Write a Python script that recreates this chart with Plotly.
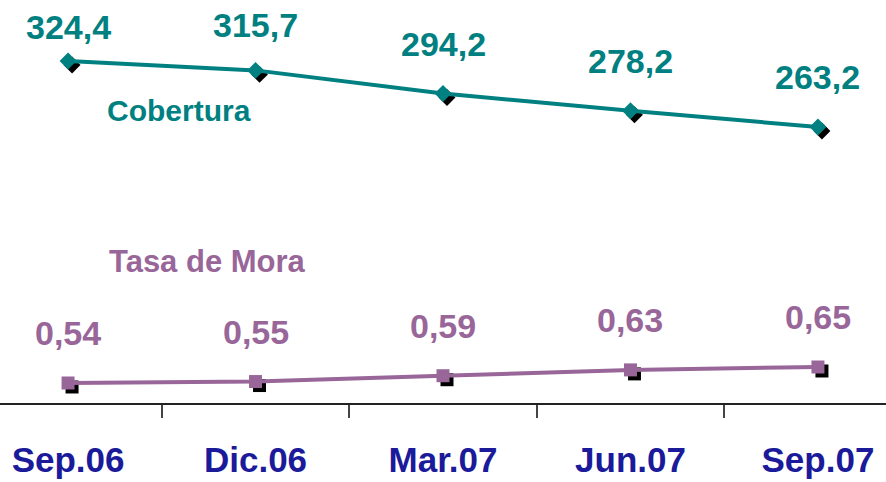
import plotly.graph_objects as go

categories = ["Sep.06", "Dic.06", "Mar.07", "Jun.07", "Sep.07"]
cobertura = [324.4, 315.7, 294.2, 278.2, 263.2]
tasa_mora = [0.54, 0.55, 0.59, 0.63, 0.65]

TEAL = "#008080"
MAUVE = "#996699"
NAVY = "#1a1a9a"
FONT = "Liberation Sans, Arial, sans-serif"

W, H = 886, 482
MB = 79
PLOT_H = H - MB
X_RANGE = [-0.363, 4.363]
Y1_RANGE = [7.1, 381.0]
Y2_RANGE = [0.4025, 3.172]

x_idx = list(range(len(categories)))

# shadow offsets (4 px right / down) converted to data units
px_x = W / (X_RANGE[1] - X_RANGE[0])
px_y1 = PLOT_H / (Y1_RANGE[1] - Y1_RANGE[0])
px_y2 = PLOT_H / (Y2_RANGE[1] - Y2_RANGE[0])
dx = 4 / px_x
dy1 = 4 / px_y1
dy2 = 4 / px_y2

fig = go.Figure()

fig.add_trace(go.Scatter(
    x=[i + dx for i in x_idx], y=[v - dy1 for v in cobertura], mode="markers",
    marker=dict(symbol="diamond", size=13, color="black"),
    hoverinfo="skip", showlegend=False))
fig.add_trace(go.Scatter(
    x=x_idx, y=cobertura, mode="lines+markers", name="Cobertura",
    line=dict(color=TEAL, width=4),
    marker=dict(symbol="diamond", size=13, color=TEAL),
    showlegend=False))

fig.add_trace(go.Scatter(
    x=[i + dx for i in x_idx], y=[v - dy2 for v in tasa_mora], mode="markers",
    marker=dict(symbol="square", size=13, color="black"),
    hoverinfo="skip", showlegend=False, yaxis="y2"))
fig.add_trace(go.Scatter(
    x=x_idx, y=tasa_mora, mode="lines+markers", name="Tasa de Mora",
    line=dict(color=MAUVE, width=4),
    marker=dict(symbol="square", size=13, color=MAUVE),
    showlegend=False, yaxis="y2"))

def fmt(v, d):
    return f"{v:.{d}f}".replace(".", ",")

cob_shift = [34, 45, 50, 50, 50]
for i, v in enumerate(cobertura):
    fig.add_annotation(x=i, y=v, xref="x", yref="y", text=f"<b>{fmt(v, 1)}</b>",
                       showarrow=False, yshift=cob_shift[i],
                       font=dict(family=FONT, size=34, color=TEAL))
for i, v in enumerate(tasa_mora):
    fig.add_annotation(x=i, y=v, xref="x", yref="y2", text=f"<b>{fmt(v, 2)}</b>",
                       showarrow=False, yshift=50,
                       font=dict(family=FONT, size=34, color=MAUVE))

fig.add_annotation(x=179 / W, y=(PLOT_H - 110) / PLOT_H, xref="paper", yref="paper",
                   xanchor="center", yanchor="middle",
                   text="<b>Cobertura</b>", showarrow=False,
                   font=dict(family=FONT, size=30, color=TEAL))
fig.add_annotation(x=207 / W, y=(PLOT_H - 262) / PLOT_H, xref="paper", yref="paper",
                   xanchor="center", yanchor="middle",
                   text="<b>Tasa de Mora</b>", showarrow=False,
                   font=dict(family=FONT, size=31, color=MAUVE))

fig.update_layout(
    width=W, height=H,
    margin=dict(l=0, r=0, t=0, b=MB, autoexpand=False),
    paper_bgcolor="white", plot_bgcolor="white",
    xaxis=dict(range=X_RANGE, tickmode="array", tickvals=x_idx,
               ticktext=[f"<b>{c}</b>" for c in categories],
               automargin=False,
               showgrid=False, zeroline=False, showline=True, linecolor="#222",
               linewidth=1.5, ticks="",
               tickfont=dict(family=FONT, size=35, color=NAVY),
               ticklabelstandoff=25,
               minor=dict(tickmode="array", tickvals=[i + 0.5 for i in x_idx[:-1]],
                          ticks="outside", ticklen=13, tickwidth=1.5,
                          tickcolor="#444", showgrid=False)),
    yaxis=dict(range=Y1_RANGE, visible=False, showgrid=False),
    yaxis2=dict(range=Y2_RANGE, overlaying="y", visible=False, showgrid=False),
)

fig.write_html("out.html", config={"displayModeBar": False},
               post_script="document.body.style.margin='0';document.body.style.overflow='hidden';")
